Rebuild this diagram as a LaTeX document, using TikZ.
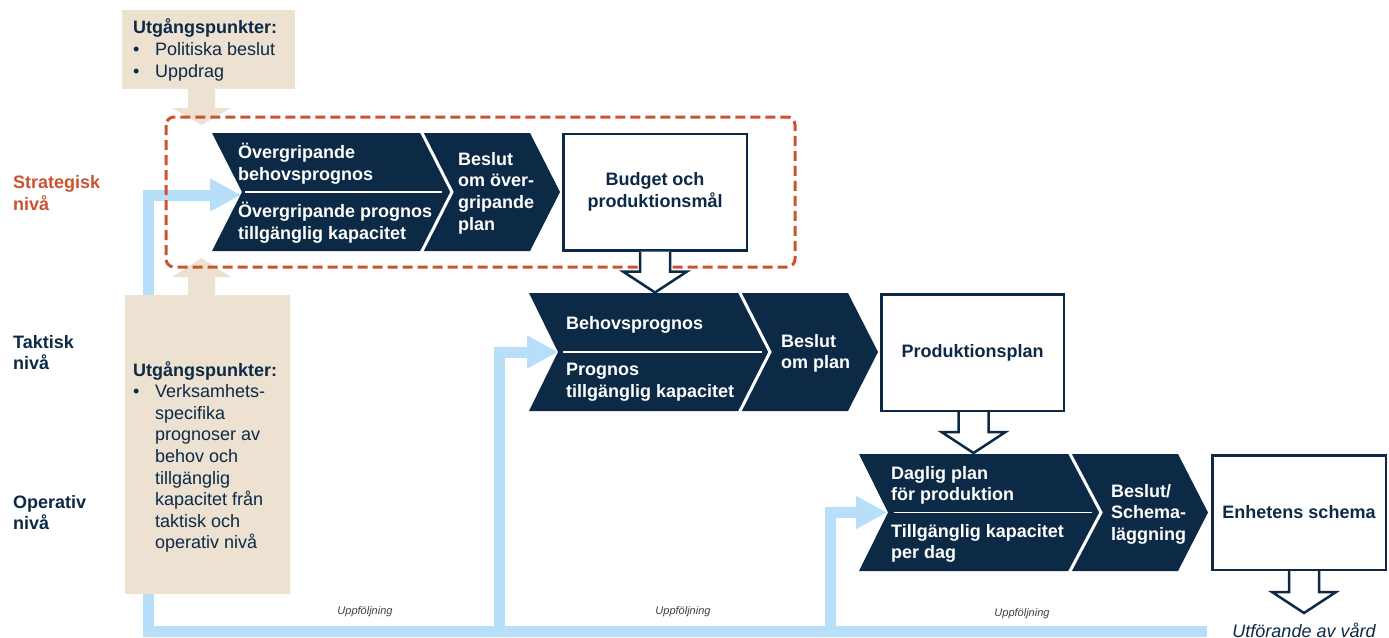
\documentclass[tikz,border=0pt]{standalone}
\usepackage{fontspec}
\setmainfont{Liberation Sans}
\usetikzlibrary{arrows.meta}
\definecolor{navy}{HTML}{0C2A45}
\definecolor{beige}{HTML}{EDE1D2}
\definecolor{lblue}{HTML}{B8DFFA}
\definecolor{rust}{HTML}{CC5331}
\tikzset{
  lbl/.style={font=\fontsize{18}{21.6}\selectfont\bfseries, align=left, anchor=west, inner sep=0pt, text=navy},
  wtxt/.style={lbl, text=white, yshift=-1.5pt},
  boxnode/.style={draw=navy, line width=2.5pt, fill=white, inner sep=0pt, font=\fontsize{18}{21.6}\selectfont\bfseries, text=navy, align=center},
  hollow/.style={draw=navy, line width=2.5pt, fill=white, line join=miter},
  chev/.style={fill=navy},
  sepline/.style={draw=white, line width=3pt, line join=miter},
  divline/.style={draw=white, line width=1.2pt},
  fb/.style={draw=lblue, line width=11pt, line join=miter},
  fbarrow/.style={fb, -{Triangle[length=31pt 0, width=31pt 0]}},
  followtxt/.style={font=\fontsize{11}{13}\selectfont\itshape, text=black!75, inner sep=0pt},
  beigetxt/.style={font=\fontsize{18}{21.6}\selectfont, align=left, anchor=west, inner sep=0pt, text=navy},
  beigebox/.style={fill=beige, draw=none, inner sep=0pt, anchor=north west},
}
\newcommand{\bul}{\makebox[22pt][l]{•}}
\newcommand{\ind}{\hspace*{22pt}}
\begin{document}
\begin{tikzpicture}[x=1pt, y=-1pt]
\fill[white] (0,0) rectangle (1389,637);
\useasboundingbox (0,0) rectangle (1389,637);

% feedback lines
\coordinate (fbE) at (1207,631.5);
\coordinate (fbW) at (148.5,631.5);
\coordinate (sIn) at (241,195);
\coordinate (tFoot) at (499,631.5);
\coordinate (tIn) at (558,352);
\coordinate (oFoot) at (830,631.5);
\coordinate (oIn) at (887,512.5);
\draw[fbarrow] (fbE) -- (fbW) |- (sIn);
\draw[fbarrow] (tFoot) |- (tIn);
\draw[fbarrow] (oFoot) |- (oIn);

% beige boxes and arrows
\node[beigebox, minimum width=173pt, minimum height=79pt] (bx1) at (122,10) {};
\node[beigebox, minimum width=165pt, minimum height=299pt] (bx2) at (125,295) {};
\fill[beige] (188,88) -- (188,108) -- (172,108) -- (201.5,125) -- (231,108) -- (215,108) -- (215,88) -- cycle;
\fill[beige] (188,296) -- (188,277) -- (172,277) -- (201.5,258) -- (231,277) -- (215,277) -- (215,296) -- cycle;
\node[beigetxt] (u1) at (133,50) {\textbf{Utgångspunkter:}\\\bul Politiska beslut\\\bul Uppdrag};
\node[beigetxt] (u2) at (133,457) {\textbf{Utgångspunkter:}\\\bul Verksamhets-\\\ind specifika\\\ind prognoser av\\\ind behov och\\\ind tillgänglig\\\ind kapacitet från\\\ind taktisk och\\\ind operativ nivå};

% dashed strategic frame
\draw[rust, line width=3pt, dash pattern=on 10pt off 5pt, rounded corners=8pt] (166,117) rectangle (795,267);

% level labels
\node[lbl, text=rust] (lstrat) at (13,193) {Strategisk\\nivå};
\node[lbl] (ltakt) at (13,352.5) {Taktisk\\nivå};
\node[lbl] (lop) at (13,512.5) {Operativ\\nivå};

% strategic chevrons
\fill[chev] (212,133) -- (530,133) -- (560,192) -- (530,251) -- (212,251) -- (242,192) -- cycle;
\draw[sepline] (421,131) -- (452,192) -- (421,253);
\draw[divline] (245,192) -- (442,192);
\node[wtxt] (s1) at (238,162.5) {Övergripande\\behovsprognos};
\node[wtxt] (s2) at (238,221.5) {Övergripande prognos\\tillgänglig kapacitet};
\node[wtxt] (s3) at (458,191.5) {Beslut\\om över-\\gripande\\plan};

% tactical chevrons
\fill[chev] (529,293) -- (848,293) -- (878,352) -- (848,411) -- (529,411) -- (558,352) -- cycle;
\draw[sepline] (739,291) -- (770,352) -- (739,413);
\draw[divline] (563,352) -- (762,352);
\node[wtxt] (t1) at (566,323) {Behovsprognos};
\node[wtxt] (t2) at (566,380.5) {Prognos\\tillgänglig kapacitet};
\node[wtxt] (t3) at (781,352) {Beslut\\om plan};

% operative chevrons
\fill[chev] (859,454) -- (1178,454) -- (1208,512.5) -- (1178,571) -- (859,571) -- (888,512.5) -- cycle;
\draw[sepline] (1069,452) -- (1101,512.5) -- (1069,573);
\draw[divline] (894,512.5) -- (1092,512.5);
\node[wtxt] (o1) at (891,484) {Daglig plan\\för produktion};
\node[wtxt] (o2) at (891,542) {Tillgänglig kapacitet\\per dag};
\node[wtxt] (o3) at (1111,512.5) {Beslut/\\Schema-\\läggning};

% result boxes
\node[boxnode, minimum width=183.5pt, minimum height=116.5pt] (budget) at (655,192) {Budget och\\produktionsmål};
\node[boxnode, minimum width=182.5pt, minimum height=116.5pt] (prod) at (972.5,352.5) {Produktionsplan};
\node[boxnode, minimum width=173.5pt, minimum height=114.5pt] (ens) at (1299,512.5) {Enhetens schema};

% hollow block arrows
\draw[hollow] (budget.south) ++(-15,0) -- ++(0,20) -- ++(-17,0) -- ++(32,21) -- ++(32,-21) -- ++(-17,0) -- ++(0,-20);
\draw[hollow] (prod.south) ++(-14,0) -- ++(0,20) -- ++(-17,0) -- ++(32,21) -- ++(32,-21) -- ++(-17,0) -- ++(0,-20);
\draw[hollow] (ens.south) ++(-10,0) -- ++(0,21) -- ++(-17,0) -- ++(32,21) -- ++(32,-21) -- ++(-17,0) -- ++(0,-21);

% follow-up labels
\node[followtxt] (f1) at (365,612) {Uppföljning};
\node[followtxt] (f2) at (683,612) {Uppföljning};
\node[followtxt] (f3) at (1022,614) {Uppföljning};
\node[font=\fontsize{18}{21.6}\selectfont\itshape, text=navy, inner sep=0pt, anchor=base] (utf) at (1304,637) {Utförande av vård};
\end{tikzpicture}
\end{document}
